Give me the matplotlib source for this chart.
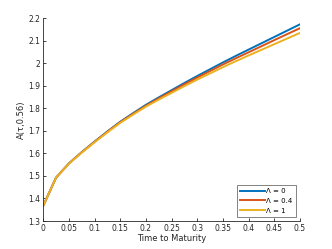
import matplotlib
matplotlib.use("Agg")
import matplotlib.pyplot as plt
from matplotlib.ticker import FuncFormatter

tau = [0, 0.025, 0.05, 0.075, 0.1, 0.125, 0.15, 0.175, 0.2, 0.225, 0.25,
       0.275, 0.3, 0.325, 0.35, 0.375, 0.4, 0.425, 0.45, 0.475, 0.5]
a_lam0 = [1.367, 1.492, 1.555, 1.605, 1.652, 1.697, 1.740, 1.778, 1.815, 1.848, 1.880,
          1.912, 1.943, 1.973, 2.003, 2.032, 2.060, 2.088, 2.116, 2.144, 2.172]
a_lam04 = [1.367, 1.492, 1.555, 1.6045, 1.651, 1.6955, 1.738, 1.775, 1.811, 1.8435, 1.875,
           1.906, 1.936, 1.965, 1.994, 2.0215, 2.048, 2.075, 2.102, 2.1285, 2.155]
a_lam1 = [1.367, 1.492, 1.554, 1.603, 1.649, 1.693, 1.735, 1.7715, 1.807, 1.838, 1.868,
          1.898, 1.927, 1.9545, 1.982, 2.0085, 2.034, 2.059, 2.084, 2.109, 2.134]
labels = ["Λ = 0", "Λ = 0.4", "Λ = 1"]
xticks = [0, 0.05, 0.1, 0.15, 0.2, 0.25, 0.3, 0.35, 0.4, 0.45, 0.5]
yticks = [1.3, 1.4, 1.5, 1.6, 1.7, 1.8, 1.9, 2.0, 2.1, 2.2]

colors = ["#0072BD", "#D95319", "#EDB120"]

fig = plt.figure(figsize=(3.32, 2.49), dpi=100)
ax = fig.add_axes([0.13, 0.1124, 0.7736, 0.8153])
for ys, c, l in zip([a_lam0, a_lam04, a_lam1], colors, labels):
    ax.plot(tau, ys, color=c, lw=1.4, label=l)

ax.set_xlim(0, 0.5)
ax.set_ylim(1.3, 2.2)
ax.set_xticks(xticks)
ax.set_yticks(yticks)
fmt = FuncFormatter(lambda v, p: ("%g" % round(v, 3)))
ax.xaxis.set_major_formatter(fmt)
ax.yaxis.set_major_formatter(fmt)
for s in ["top", "right"]:
    ax.spines[s].set_visible(False)
for s in ["left", "bottom"]:
    ax.spines[s].set_color("#262626")
    ax.spines[s].set_linewidth(0.6)
ax.tick_params(direction="in", length=2.5, width=0.6, labelsize=5.5,
               colors="#262626", pad=2)
ax.set_xlabel("Time to Maturity", fontsize=6, color="#262626", labelpad=1)
ax.set_ylabel("A(τ,0.56)", fontsize=6, color="#262626", labelpad=2)

leg = ax.legend(loc="lower right", fontsize=5, frameon=True, fancybox=False,
                handlelength=3.6, handletextpad=0.25, borderpad=0.45,
                labelspacing=0.55, borderaxespad=0.6)
leg.get_frame().set_edgecolor("#262626")
leg.get_frame().set_linewidth(0.5)

fig.savefig("out.png", dpi=100)
